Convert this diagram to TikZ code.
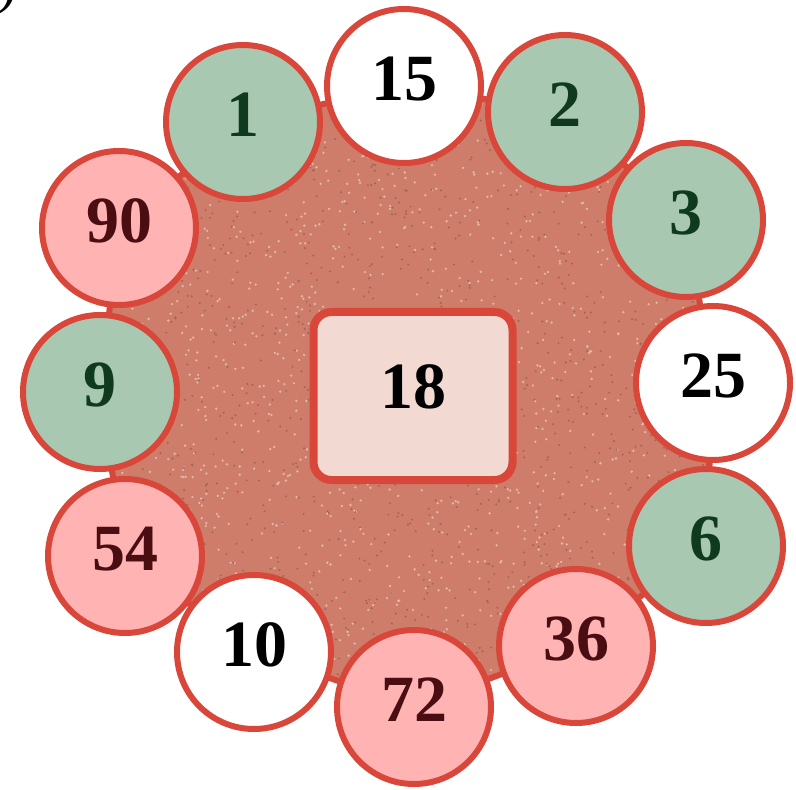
\documentclass[tikz,border=0pt]{standalone}
\usepackage{fontspec}
\setmainfont{Liberation Serif}
\definecolor{ringred}{HTML}{D8473A}
\definecolor{leafgreen}{HTML}{A8C8B1}
\definecolor{rosepink}{HTML}{FFB3B3}
\definecolor{clay}{HTML}{CD7D69}
\definecolor{sand}{HTML}{F2DAD2}
\definecolor{greentext}{HTML}{0F3A1E}
\definecolor{pinktext}{HTML}{4A0E12}
\newcommand\blobpath{(p15) -- (p2) -- (p3) -- (p25) -- (p6) -- (p36)
  -- (p72) -- (p10) -- (p54) -- (p9) -- (p90) -- (p1) -- cycle}

\begin{document}
\begin{tikzpicture}[x=0.5pt,y=-0.5pt,
    num/.style={circle,draw=ringred,line width=3pt,minimum size=77pt,inner sep=0pt,
      text depth=7pt,font=\fontsize{33}{33}\selectfont\bfseries},
    gnum/.style={num,fill=leafgreen,text=greentext},
    pnum/.style={num,fill=rosepink,text=pinktext},
    wnum/.style={num,fill=white,text=black}
  ]
  \useasboundingbox (0,0) rectangle (796,790);
  \node[anchor=base west,inner sep=0pt,font=\fontsize{30}{30}\selectfont] (tag) at (-3,2) {)};
  \foreach \px/\py/\lab in {404/86/15, 565/112/2, 686/220/3, 713/383/25, 706/546/6, 576/646/36,
      414/707/72, 254/652/10, 125/556/54, 100/392/9, 119/228/90, 243/122/1}
    \coordinate (p\lab) at (\px,\py);
  \fill[clay,draw=ringred,line width=3pt,line join=round] \blobpath;
  \begin{scope}
    \clip \blobpath;
    \pgfmathsetseed{7}
    \foreach \k in {1,...,1400}
      \fill[clay!55!white] (100+rnd*615,86+rnd*621) circle (1.3);
    \foreach \k in {1,...,1400}
      \fill[clay!80!black] (100+rnd*615,86+rnd*621) circle (1.1);
  \end{scope}
  \foreach \lab/\kind in {15/wnum, 2/gnum, 3/gnum, 25/wnum, 6/gnum, 36/pnum,
      72/pnum, 10/wnum, 54/pnum, 9/gnum, 90/pnum, 1/gnum}
    \node[\kind] (c\lab) at (p\lab) {\lab};
  \node[draw=ringred,line width=4pt,fill=sand,rounded corners=9pt,minimum width=99.5pt,
    minimum height=84pt,text depth=9pt,font=\fontsize{33}{33}\selectfont\bfseries] (mid) at (413,396) {18};
\end{tikzpicture}
\end{document}
